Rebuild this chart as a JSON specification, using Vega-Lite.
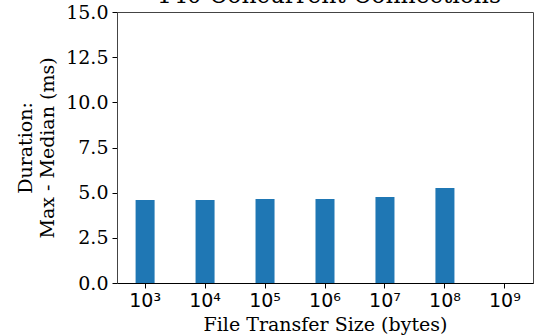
{
  "$schema": "https://vega.github.io/schema/vega-lite/v6.json",
  "width": 416,
  "height": 271,
  "autosize": {"type": "none"},
  "padding": {"left": 117, "top": 12, "right": 6, "bottom": 53},
  "background": "white",
  "title": {
    "text": "140 Concurrent Connections",
    "font": "DejaVu Serif",
    "fontSize": 23.5,
    "fontWeight": "normal",
    "color": "black",
    "baseline": "alphabetic",
    "frame": "group",
    "offset": -23,
    "dx": 4,
    "anchor": "middle"
  },
  "config": {
    "view": {"stroke": "#444", "strokeWidth": 1}
  },
  "data": {
    "values": [
      {"size": "10³", "value": 4.59},
      {"size": "10⁴", "value": 4.59},
      {"size": "10⁵", "value": 4.65},
      {"size": "10⁶", "value": 4.65},
      {"size": "10⁷", "value": 4.76},
      {"size": "10⁸", "value": 5.26},
      {"size": "10⁹", "value": 0}
    ]
  },
  "mark": {"type": "bar", "color": "#1f77b4"},
  "encoding": {
    "x": {
      "field": "size",
      "type": "ordinal",
      "sort": null,
      "scale": {"paddingInner": 0.683, "paddingOuter": 0.31},
      "axis": {
        "title": "File Transfer Size (bytes)",
        "titleFont": "DejaVu Serif",
        "titleFontSize": 19,
        "titleFontWeight": "normal",
        "titleColor": "black",
        "titlePadding": 5,
        "labelFont": "DejaVu Sans",
        "labelFontSize": 19,
        "labelColor": "black",
        "labelAngle": 0,
        "labelPadding": 3,
        "tickColor": "black",
        "tickSize": 5,
        "domainColor": "black",
        "grid": false
      }
    },
    "y": {
      "field": "value",
      "type": "quantitative",
      "scale": {"domain": [0, 15], "nice": false},
      "axis": {
        "title": ["Duration:", "Max - Median (ms)"],
        "titleFont": "DejaVu Serif",
        "titleFontSize": 19,
        "titleFontWeight": "normal",
        "titleColor": "black",
        "titleLineHeight": 22,
        "titlePadding": 8,
        "values": [0, 2.5, 5, 7.5, 10, 12.5, 15],
        "format": ".1f",
        "labelFont": "DejaVu Serif",
        "labelFontSize": 19,
        "labelColor": "black",
        "labelPadding": 4,
        "tickColor": "black",
        "tickSize": 5,
        "domainColor": "#444",
        "grid": false
      }
    }
  }
}
